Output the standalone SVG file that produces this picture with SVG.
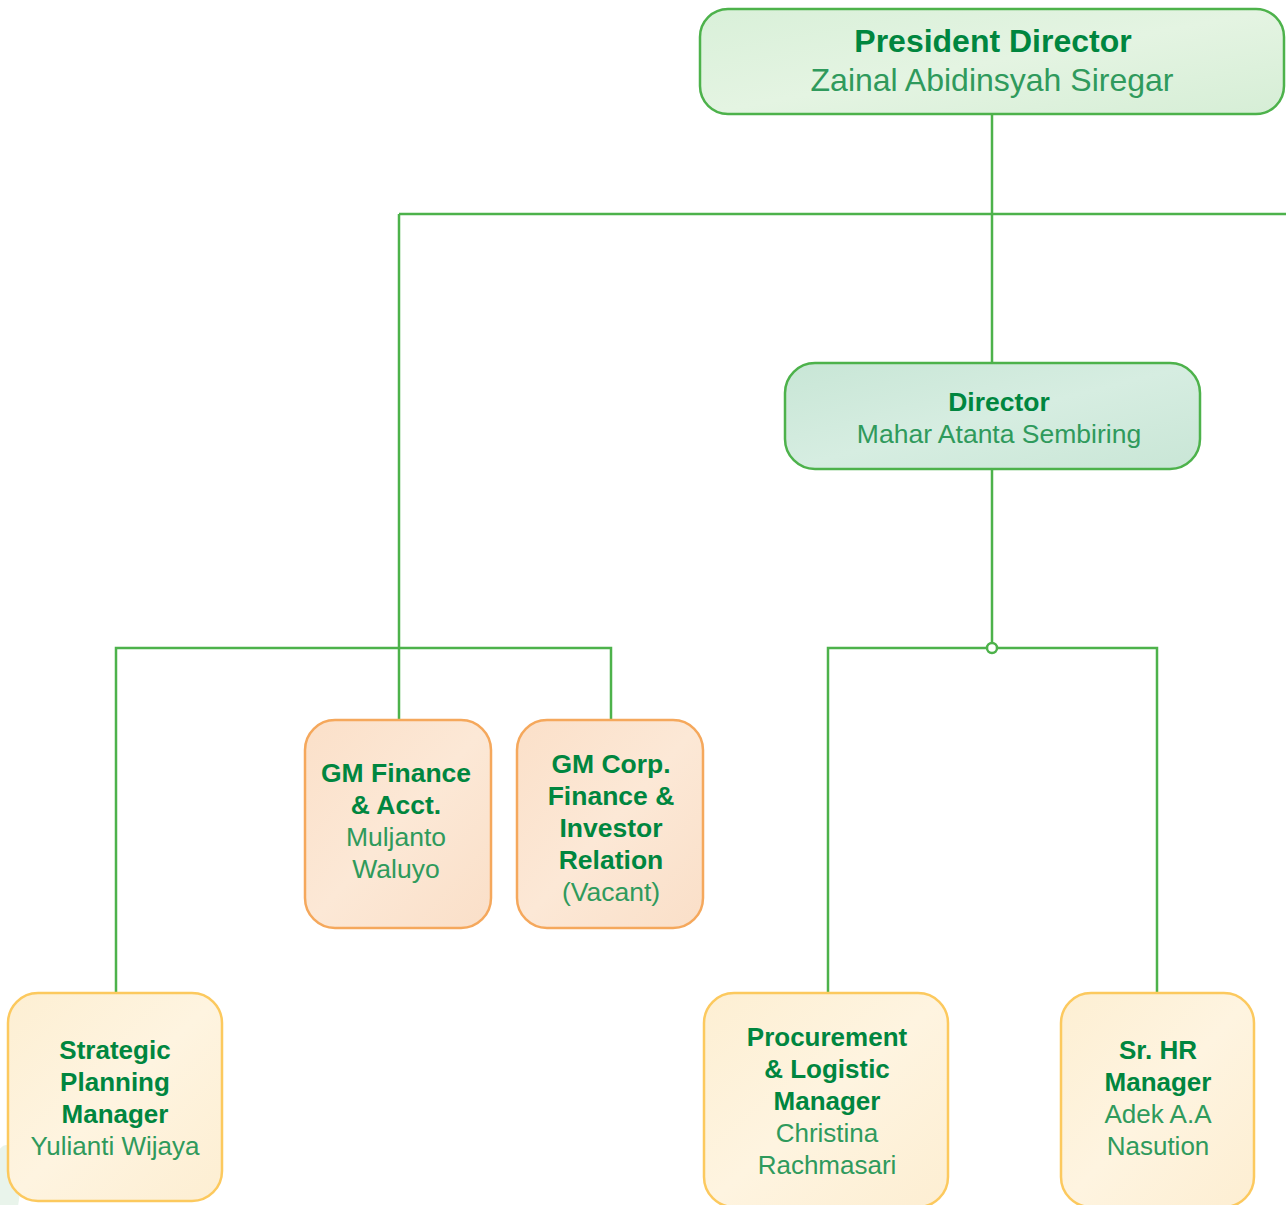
<svg xmlns="http://www.w3.org/2000/svg" width="1286" height="1205" viewBox="0 0 1286 1205">
<style>
.t{font-family:"Liberation Sans",Arial,Helvetica,sans-serif;font-weight:bold;fill:#00863f;text-anchor:middle}
.n{font-family:"Liberation Sans",Arial,Helvetica,sans-serif;fill:#2f9a5c;text-anchor:middle}
.con{fill:none;stroke:#4db24b;stroke-width:2.5}
.gbox{stroke:#4db24b;stroke-width:2.5}
.obox{stroke:#f5a85c;stroke-width:2.5;fill:url(#gO)}
.ybox{stroke:#fcc95e;stroke-width:2.5;fill:url(#gY)}
</style>
<defs>
<linearGradient id="gP" x1="0" y1="0" x2="1" y2="1">
<stop offset="0" stop-color="#d9f0d9"/>
<stop offset="0.5" stop-color="#e4f4e2"/>
<stop offset="1" stop-color="#d6eed6"/>
</linearGradient>
<linearGradient id="gD" x1="0" y1="0" x2="1" y2="1">
<stop offset="0" stop-color="#c8e6d6"/>
<stop offset="0.5" stop-color="#d6ede1"/>
<stop offset="1" stop-color="#c9e6d6"/>
</linearGradient>
<linearGradient id="gO" x1="0" y1="0" x2="1" y2="1">
<stop offset="0" stop-color="#fbe0c9"/>
<stop offset="0.5" stop-color="#fce8d6"/>
<stop offset="1" stop-color="#fadfc8"/>
</linearGradient>
<linearGradient id="gY" x1="0" y1="0" x2="1" y2="1">
<stop offset="0" stop-color="#fdefd3"/>
<stop offset="0.5" stop-color="#fef4e0"/>
<stop offset="1" stop-color="#fdeed2"/>
</linearGradient>
</defs>
<rect width="1286" height="1205" fill="#ffffff"/>
<ellipse cx="6" cy="1185" rx="14" ry="40" fill="#e3f1e6" opacity="0.8"/>
<g id="connectors">
<path class="con" d="M992,114 V362"/>
<path class="con" d="M399,214 H1288"/>
<path class="con" d="M399,214 V720"/>
<path class="con" d="M116,993 V648 H611 V720"/>
<path class="con" d="M992,469 V643"/>
<path class="con" d="M828,993 V648 H987 M997,648 H1157 V993"/>
<circle cx="992" cy="648" r="5" fill="#ffffff" stroke="#4db24b" stroke-width="2.5"/>
</g>
<g id="president">
<rect class="gbox" x="700" y="9" width="584" height="105" rx="28" fill="url(#gP)"/>
<text class="t" x="993" y="52" font-size="32">President Director</text>
<text class="n" x="992" y="91" font-size="32">Zainal Abidinsyah Siregar</text>
</g>
<g id="director">
<rect class="gbox" x="785" y="363" width="415" height="106" rx="30" fill="url(#gD)"/>
<text class="t" x="999" y="411" font-size="26.5">Director</text>
<text class="n" x="999" y="443" font-size="26.5">Mahar Atanta Sembiring</text>
</g>
<g id="gm-finance">
<rect class="obox" x="305" y="720" width="186" height="208" rx="30"/>
<text class="t" x="396" y="782" font-size="26.5">GM Finance</text>
<text class="t" x="396" y="814" font-size="26.5">&amp; Acct.</text>
<text class="n" x="396" y="846" font-size="26.5">Muljanto</text>
<text class="n" x="396" y="878" font-size="26.5">Waluyo</text>
</g>
<g id="gm-corp">
<rect class="obox" x="517" y="720" width="186" height="208" rx="30"/>
<text class="t" x="611" y="773" font-size="26.5">GM Corp.</text>
<text class="t" x="611" y="805" font-size="26.5">Finance &amp;</text>
<text class="t" x="611" y="837" font-size="26.5">Investor</text>
<text class="t" x="611" y="869" font-size="26.5">Relation</text>
<text class="n" x="611" y="901" font-size="26.5">(Vacant)</text>
</g>
<g id="strategic">
<rect class="ybox" x="8" y="993" width="214" height="208" rx="30"/>
<text class="t" x="115" y="1059" font-size="26">Strategic</text>
<text class="t" x="115" y="1091" font-size="26">Planning</text>
<text class="t" x="115" y="1123" font-size="26">Manager</text>
<text class="n" x="115" y="1155" font-size="26">Yulianti Wijaya</text>
</g>
<g id="procurement">
<rect class="ybox" x="704" y="993" width="244" height="214" rx="30"/>
<text class="t" x="827" y="1046" font-size="26">Procurement</text>
<text class="t" x="827" y="1078" font-size="26">&amp; Logistic</text>
<text class="t" x="827" y="1110" font-size="26">Manager</text>
<text class="n" x="827" y="1142" font-size="26">Christina</text>
<text class="n" x="827" y="1174" font-size="26">Rachmasari</text>
</g>
<g id="sr-hr">
<rect class="ybox" x="1061" y="993" width="193" height="214" rx="30"/>
<text class="t" x="1158" y="1059" font-size="26">Sr. HR</text>
<text class="t" x="1158" y="1091" font-size="26">Manager</text>
<text class="n" x="1158" y="1123" font-size="26">Adek A.A</text>
<text class="n" x="1158" y="1155" font-size="26">Nasution</text>
</g>
</svg>
